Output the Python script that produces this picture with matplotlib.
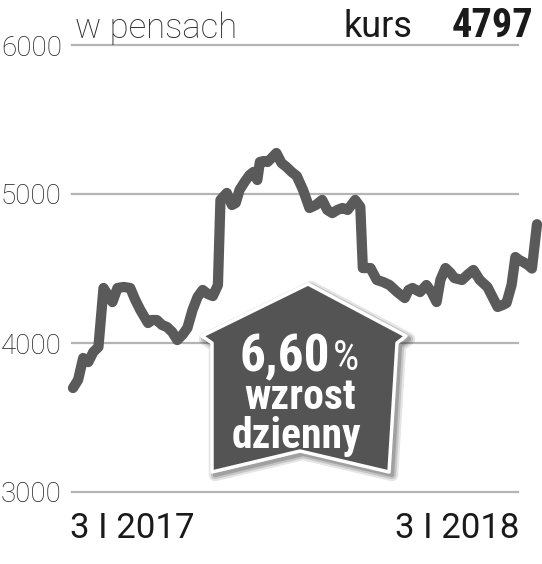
import matplotlib
matplotlib.use("Agg")
import matplotlib.pyplot as plt
from matplotlib import font_manager
from matplotlib.patches import Polygon
import numpy as np

# ---- data ----
days = [0, 4, 8, 12, 16, 20, 24, 28, 31, 35, 40, 45, 49, 53, 59, 62, 66, 70, 74, 78,
        82, 86, 90, 94, 98, 102, 106, 110, 114, 116, 121, 125, 128, 131, 135, 139, 142,
        145, 147, 150, 153, 157, 160, 164, 168, 172, 176, 181, 186, 191, 196, 200, 204,
        208, 212, 216, 222, 226, 228, 234, 239, 244, 249, 255, 261, 264, 267, 273, 278,
        282, 286, 289, 293, 297, 300, 306, 311, 315, 320, 326, 330, 334, 338, 341, 345,
        348, 351, 354, 358, 361, 365]
values = [3698, 3752, 3899, 3872, 3940, 3973, 4369, 4315, 4275, 4369, 4376, 4369, 4289,
          4221, 4134, 4154, 4154, 4121, 4107, 4074, 4020, 4054, 4101, 4221, 4309, 4356,
          4329, 4315, 4389, 4960, 5007, 4926, 4940, 5027, 5081, 5128, 5148, 5094, 5215,
          5221, 5215, 5248, 5275, 5208, 5181, 5148, 5121, 5027, 4906, 4926, 4960, 4893,
          4872, 4893, 4906, 4893, 4960, 4913, 4503, 4503, 4423, 4409, 4389, 4342, 4302,
          4356, 4369, 4342, 4389, 4342, 4275, 4423, 4503, 4470, 4436, 4423, 4463, 4490,
          4423, 4376, 4309, 4242, 4255, 4268, 4389, 4577, 4557, 4544, 4523, 4500, 4797]
y_ticks = [3000, 4000, 5000, 6000]
y_labels = ["3000", "4000", "5000", "6000"]
x_labels = ["3 I 2017", "3 I 2018"]
unit_label = "w pensach"
rate_label = "kurs"
rate_value = "4797"
change_pct = "6,60"
change_words = ["wzrost", "dzienny"]

# ---- fonts ----
def available(name):
    try:
        font_manager.findfont(font_manager.FontProperties(family=name), fallback_to_default=False)
        return True
    except Exception:
        return False

cond = "Roboto"
for cand in ["Roboto Condensed", "Liberation Sans Narrow", "DejaVu Sans Condensed"]:
    if available(cand):
        cond = cand
        break

W, H = 542, 564
fig = plt.figure(figsize=(W / 100, H / 100), dpi=100)

def fx(px):
    return px / W

def fy(py):
    return 1 - py / H

ax = fig.add_axes([fx(73), fy(492), (537 - 73) / W, (492 - 45) / H])
ax.set_xlim(0, 365)
ax.set_ylim(3000, 6000)
for s in ax.spines.values():
    s.set_visible(False)
ax.set_xticks([])
ax.set_yticks(y_ticks)
ax.set_yticklabels(y_labels, fontfamily="Roboto", fontweight="light", fontsize=20, color="#1e1e1e")
ax.tick_params(axis="y", length=0, pad=8)

for yv in y_ticks:
    ax.axhline(yv, xmin=-0.002, xmax=0.959, color="#b4b4b4", lw=1.6, clip_on=False, zorder=1)

ax.plot(days, values, color="#5a5a5a", lw=7.4, solid_joinstyle="round",
        solid_capstyle="round", clip_on=False, zorder=3)

# header texts
fig.text(fx(75), fy(38), unit_label, fontfamily="Roboto", fontweight="light",
         fontsize=25, color="#2a2a2a", va="baseline", ha="left")
fig.text(fx(344), fy(37), rate_label, fontfamily="Roboto", fontweight="normal",
         fontsize=26, color="#1a1a1a", va="baseline", ha="left")
fig.text(fx(533), fy(37), rate_value, fontfamily=cond, fontweight="bold",
         fontsize=29, color="#1a1a1a", va="baseline", ha="right")

# x labels
fig.text(fx(70), fy(538), x_labels[0], fontfamily="Roboto", fontweight="normal",
         fontsize=25, color="#1a1a1a", va="baseline", ha="left")
fig.text(fx(519), fy(538), x_labels[1], fontfamily="Roboto", fontweight="normal",
         fontsize=25, color="#1a1a1a", va="baseline", ha="right")

# arrow
arrow_px = [(308, 284), (406, 336), (397, 343), (389, 472), (300, 451),
            (212, 472), (212, 343), (202, 336)]
shadow = [(fx(x + 3), fy(y + 3)) for x, y in arrow_px]
for k, a in enumerate([0.10, 0.14, 0.18]):
    fig.add_artist(Polygon(shadow, closed=True, transform=fig.transFigure,
                           facecolor="none", edgecolor="#000000", lw=9 - 3 * k,
                           alpha=a, joinstyle="round", zorder=4))
fig.add_artist(Polygon([(fx(x), fy(y)) for x, y in arrow_px], closed=True,
                       transform=fig.transFigure, facecolor="#545454",
                       edgecolor="white", lw=2.5, joinstyle="round", zorder=5))

fig.text(fx(239), fy(371), change_pct, fontfamily=cond, fontweight="bold",
         fontsize=37, color="white", va="baseline", ha="left", zorder=6)
fig.text(fx(333), fy(370), "%", fontfamily=cond, fontweight="normal",
         fontsize=30, color="white", va="baseline", ha="left", zorder=6)
fig.text(fx(300), fy(409), change_words[0], fontfamily=cond, fontweight="bold",
         fontsize=30, color="white", va="baseline", ha="center", zorder=6)
fig.text(fx(296), fy(448), change_words[1], fontfamily=cond, fontweight="bold",
         fontsize=30, color="white", va="baseline", ha="center", zorder=6)

fig.savefig("out.png", dpi=100, facecolor="white")
